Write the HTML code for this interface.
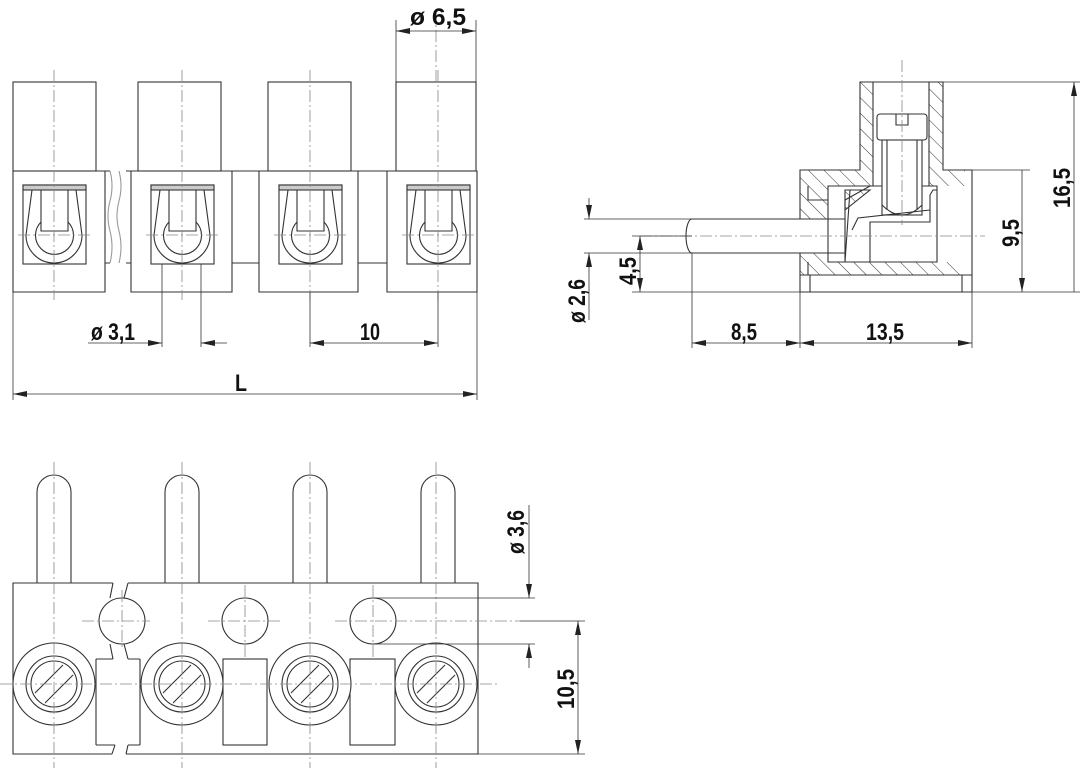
<!DOCTYPE html>
<html><head><meta charset="utf-8"><style>
html,body{margin:0;padding:0;background:#fff}
svg{display:block}
text{font-family:"Liberation Sans",sans-serif;font-weight:bold;font-size:24px;fill:#111}
</style></head><body>
<svg width="1082" height="768" viewBox="0 0 1082 768" xmlns="http://www.w3.org/2000/svg">
<defs>
<marker id="a" viewBox="0 0 14 6" refX="14" refY="3" markerWidth="14" markerHeight="6" markerUnits="userSpaceOnUse" orient="auto-start-reverse"><path d="M0,0 L14,3 L0,6 z" fill="#222"/></marker>
<pattern id="h" patternUnits="userSpaceOnUse" width="11" height="11" patternTransform="rotate(-45)"><line x1="0" y1="0" x2="0" y2="11" stroke="#333" stroke-width="1"/></pattern>
</defs>
<g fill="none" stroke="#333" stroke-width="1.1">
<!-- TOP VIEW -->
<rect x="13" y="82" width="83" height="89"/>
<rect x="138" y="82" width="83" height="89"/>
<rect x="268" y="82" width="83" height="89"/>
<rect x="396" y="82" width="80" height="89"/>
<path d="M13,171 H105 V292 H13 Z"/>
<path d="M131,171 H232 V292 H131 Z"/>
<path d="M259,171 H358 V292 H259 Z"/>
<path d="M387,171 H477 V292 H387 Z"/>
<path d="M105,171 H110 M105,263 H110 M126,171 H131 M126,263 H131 M232,171 H259 M232,263 H259 M358,171 H387 M358,263 H387"/>
<path d="M110,171 q4,15 0,30 q-4,15 0,30 q4,16 0,32 M119,171 q4,15 0,30 q-4,15 0,30 q4,16 0,32" stroke="#999"/>
<g id="u">
<rect x="23" y="185" width="63" height="79"/>
<rect x="23" y="185" width="63" height="5" fill="#ccc"/>
<path d="M32,190 L26,235 A28,28 0 0 0 82,235 L76,190"/>
<path d="M41,190 V231 H68 V190"/>
<path d="M41,222 A19,19 0 1 0 68,222"/>
</g>
<use href="#u" x="128"/><use href="#u" x="256"/><use href="#u" x="384"/>
<g stroke="#888" stroke-width="0.8" stroke-dasharray="12,3,2,3">
<path d="M54,70 V300 M182,70 V300 M310,70 V300 M438,70 V300 M436,10 V82"/>
<path d="M18,235 H92 M146,235 H220 M274,235 H348 M402,235 H476"/>
</g>
<path d="M396,20 V82 M476,20 V82" stroke-width="0.8"/>
<path d="M396,31 H476" marker-start="url(#a)" marker-end="url(#a)" stroke-width="0.8"/>
<path d="M162,264 V347 M201,264 V347 M310,292 V347 M438,292 V347 M13,292 V400 M477,292 V400" stroke-width="0.8"/>
<path d="M88,343 H162" marker-end="url(#a)" stroke-width="0.8"/>
<path d="M227,343 H201" marker-end="url(#a)" stroke-width="0.8"/>
<path d="M310,343 H438" marker-start="url(#a)" marker-end="url(#a)" stroke-width="0.8"/>
<path d="M13,394 H477" marker-start="url(#a)" marker-end="url(#a)" stroke-width="0.8"/>

<!-- SIDE VIEW -->
<g fill="url(#h)" stroke="none">
<path d="M860,82 H873 V186 H828 V219 H800 V170 H860 Z"/>
<path d="M929,82 H943 V170 H965 V186 H929 Z"/>
<path d="M800,253 H828 V262 H962 V275 H800 Z"/>
</g>
<path d="M860,82 H943 V170 H972 V292 H800 V170 H860 Z"/>
<path d="M873,82 V186 M929,82 V186 M828,186 H937 V262 H828 Z M810,275 H962 V292 M810,275 V292 M800,275 H972"/>
<path d="M808,186 V200 H828 M808,262 V275"/>
<rect x="877" y="114" width="50" height="26" rx="3" fill="#fff"/>
<path d="M896,114 V125 H908 V114"/>
<rect x="882" y="140" width="40" height="75" fill="#fff"/>
<path d="M887,140 V210 M917,140 V210 M882,205 Q902,225 922,205"/>
<path d="M845,262 V200 L870,186 H882 M870,262 V222 H930 V195 L933,190 H937 M852,230 L858,218 L930,210 M850,190 L845,262" />
<path d="M845,190 L870,190 L845,210 Z" fill="url(#h)"/>
<path d="M692,219 H845 V253 H692 A6,17 0 0 1 692,219 Z" fill="#fff"/>
<path d="M828,219 V253"/>
<g stroke="#888" stroke-width="0.8" stroke-dasharray="12,3,2,3">
<path d="M902,60 V225 M640,236 H985"/>
</g>
<path d="M943,82 H1080 M972,170 H1030 M972,292 H1080 M584,219 H692 M584,253 H692 M632,236 H692 M632,292 H800 M692,253 V348 M800,292 V348 M972,292 V348" stroke-width="0.8"/>
<path d="M1074,82 V292 M1022,170 V292" marker-start="url(#a)" marker-end="url(#a)" stroke-width="0.8"/>
<path d="M589,198 V219" marker-end="url(#a)" stroke-width="0.8"/>
<path d="M589,320 V253" marker-end="url(#a)" stroke-width="0.8"/>
<path d="M640,236 V292" marker-start="url(#a)" marker-end="url(#a)" stroke-width="0.8"/>
<path d="M692,343 H800" marker-start="url(#a)" marker-end="url(#a)" stroke-width="0.8"/>
<path d="M800,343 H972" marker-start="url(#a)" marker-end="url(#a)" stroke-width="0.8"/>

<!-- BOTTOM VIEW -->
<g id="p"><path d="M37,583 V492 A17,17 0 0 1 71,492 V583"/></g>
<use href="#p" x="128"/><use href="#p" x="256"/><use href="#p" x="384"/>
<path d="M113,583 H13 V754 H112 M128,583 H478 V754 H126"/>
<path d="M113,583 L110,598 M128,583 L124,598 M110,644 L113,659 M124,644 L128,659 M96,659 H113 M128,659 H140 M112,754 L115,745 M126,754 L128,745 M96,745 H115 M128,745 H140 M96,659 V745 M140,659 V745"/>
<circle cx="122" cy="621" r="23"/><circle cx="245" cy="621" r="23"/><circle cx="373" cy="621" r="23"/>
<rect x="223" y="659" width="44" height="86"/><rect x="350" y="659" width="45" height="86"/>
<g id="s">
<circle cx="54" cy="684" r="41" fill="#fff"/><circle cx="54" cy="684" r="28"/><circle cx="54" cy="684" r="23"/>
<path d="M35,693 L63,665 M45,703 L73,675"/>
</g>
<use href="#s" x="128"/><use href="#s" x="256"/><use href="#s" x="382"/>
<g stroke="#888" stroke-width="0.8" stroke-dasharray="12,3,2,3">
<path d="M54,462 V768 M182,462 V768 M310,462 V768 M436,462 V768"/>
<path d="M0,684 H500 M82,621 H150 M208,621 H280 M335,621 H520 M122,590 V650 M245,585 V660 M373,585 V660"/>
</g>
<path d="M373,598 H535 M373,644 H535 M520,621 H585 M478,754 H585" stroke-width="0.8"/>
<path d="M529,505 V598" marker-end="url(#a)" stroke-width="0.8"/>
<path d="M529,668 V644" marker-end="url(#a)" stroke-width="0.8"/>
<path d="M578,621 V754" marker-start="url(#a)" marker-end="url(#a)" stroke-width="0.8"/>
</g>
<text x="410" y="25" textLength="56" lengthAdjust="spacingAndGlyphs">ø 6,5</text>
<text x="91" y="340" textLength="44" lengthAdjust="spacingAndGlyphs">ø 3,1</text>
<text x="360" y="340" textLength="20" lengthAdjust="spacingAndGlyphs">10</text>
<text x="235" y="391" textLength="12" lengthAdjust="spacingAndGlyphs">L</text>
<text x="731" y="340" textLength="26" lengthAdjust="spacingAndGlyphs">8,5</text>
<text x="866" y="340" textLength="38" lengthAdjust="spacingAndGlyphs">13,5</text>
<text transform="translate(585,323) rotate(-90)" textLength="44" lengthAdjust="spacingAndGlyphs">ø 2,6</text>
<text transform="translate(636,285) rotate(-90)" textLength="28" lengthAdjust="spacingAndGlyphs">4,5</text>
<text transform="translate(1019,247) rotate(-90)" textLength="28" lengthAdjust="spacingAndGlyphs">9,5</text>
<text transform="translate(1070,208) rotate(-90)" textLength="40" lengthAdjust="spacingAndGlyphs">16,5</text>
<text transform="translate(524,554) rotate(-90)" textLength="44" lengthAdjust="spacingAndGlyphs">ø 3,6</text>
<text transform="translate(574,709) rotate(-90)" textLength="40" lengthAdjust="spacingAndGlyphs">10,5</text>
</svg>
</body></html>
